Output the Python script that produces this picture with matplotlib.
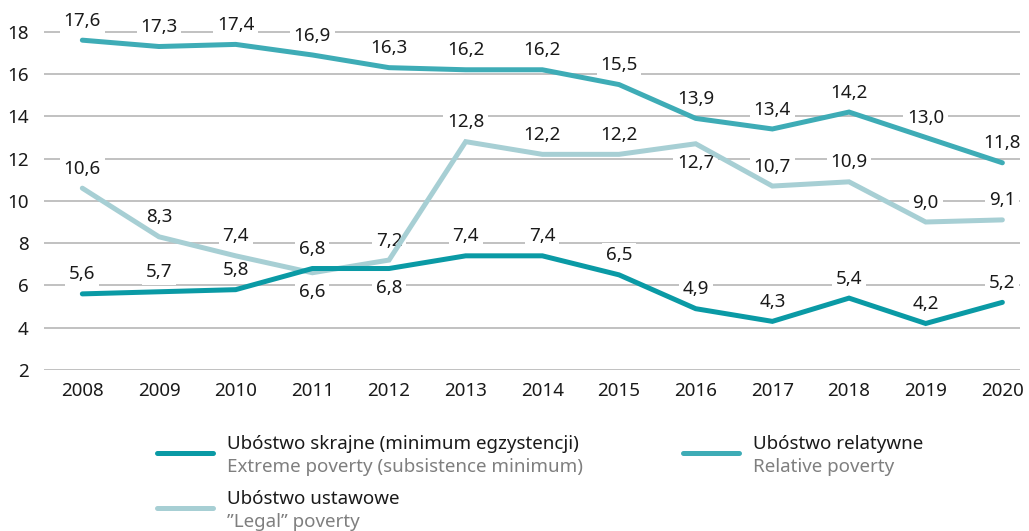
import matplotlib
matplotlib.use("Agg")
import matplotlib.pyplot as plt
from matplotlib.lines import Line2D

plt.rcParams['font.family'] = ['Noto Sans', 'DejaVu Sans']

years = [2008, 2009, 2010, 2011, 2012, 2013, 2014, 2015, 2016, 2017, 2018, 2019, 2020]
relative = [17.6, 17.3, 17.4, 16.9, 16.3, 16.2, 16.2, 15.5, 13.9, 13.4, 14.2, 13.0, 11.8]
legal = [10.6, 8.3, 7.4, 6.6, 7.2, 12.8, 12.2, 12.2, 12.7, 10.7, 10.9, 9.0, 9.1]
extreme = [5.6, 5.7, 5.8, 6.8, 6.8, 7.4, 7.4, 6.5, 4.9, 4.3, 5.4, 4.2, 5.2]
# label placement: 1 above, -1 below
relative_pos = [1] * 13
legal_pos = [1, 1, 1, -1, 1, 1, 1, 1, -1, 1, 1, 1, 1]
extreme_pos = [1, 1, 1, 1, -1, 1, 1, 1, 1, 1, 1, 1, 1]
yticks = [2, 4, 6, 8, 10, 12, 14, 16, 18]

c_extreme = "#0a9aa5"
c_relative = "#3eacb6"
c_legal = "#a7cfd4"
fs = 13.5

fig = plt.figure(figsize=(10.29, 5.31), dpi=100)
ax = fig.add_axes([44 / 1029, 1 - 370 / 531, (1020 - 44) / 1029, 370 / 531])
ax.set_xlim(2007.5, 2020.23)
ax.set_ylim(2, 19.5)
for s in ax.spines.values():
    s.set_visible(False)
ax.set_yticks(yticks)
ax.set_xticks(years)
ax.tick_params(length=0, labelsize=fs, colors="#1a1a1a")
ax.tick_params(axis='y', pad=11)
ax.tick_params(axis='x', pad=9)
for t in yticks:
    ax.axhline(t, color="#b0b0b0", lw=1.1, zorder=0)

def fmt(v):
    return f"{v:.1f}".replace(".", ",")

for vals, pos, col in [(relative, relative_pos, c_relative), (legal, legal_pos, c_legal), (extreme, extreme_pos, c_extreme)]:
    ax.plot(years, vals, color=col, lw=3.6, solid_capstyle='round', solid_joinstyle='miter', zorder=3)
    for x, v, p in zip(years, vals, pos):
        ax.annotate(fmt(v), (x, v), xytext=(0, 14 * p), textcoords='offset points',
                    ha='center', va='center', fontsize=fs, color="#1a1a1a", zorder=2,
                    bbox=dict(boxstyle='square,pad=0.2', fc='white', ec='none'))

# legend
def legend_item(x0, y0, col, t1, t2):
    fig.add_artist(Line2D([x0 / 1029, (x0 + 56) / 1029], [1 - y0 / 531, 1 - y0 / 531],
                          color=col, lw=3.6, solid_capstyle='round'))
    fig.text((x0 + 70) / 1029, 1 - (y0 - 9) / 531, t1, fontsize=fs, color="#1a1a1a", va='center')
    fig.text((x0 + 70) / 1029, 1 - (y0 + 14) / 531, t2, fontsize=fs, color="#7f7f7f", va='center')

legend_item(157, 453, c_extreme, "Ubóstwo skrajne (minimum egzystencji)", "Extreme poverty (subsistence minimum)")
legend_item(683, 453, c_relative, "Ubóstwo relatywne", "Relative poverty")
legend_item(157, 508, c_legal, "Ubóstwo ustawowe", "”Legal” poverty")

fig.savefig("out.png", dpi=100)
